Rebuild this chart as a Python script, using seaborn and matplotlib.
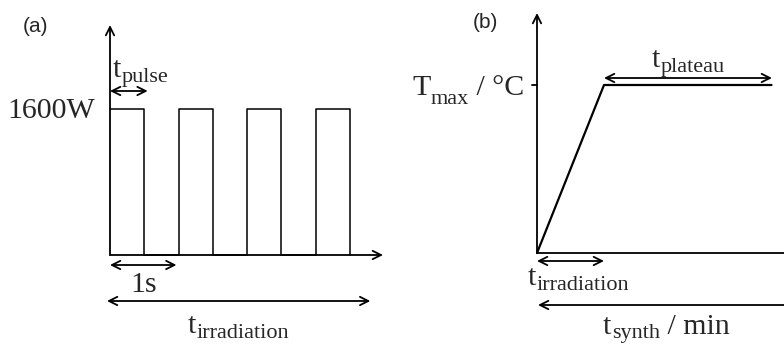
import matplotlib
matplotlib.use("Agg")
import matplotlib.pyplot as plt
import matplotlib.transforms as mtransforms
import seaborn as sns
import pandas as pd

# ---- data ----
pulse_time = [0, 0.5, 1, 1.5, 2, 2.5, 3, 3.5]          # s
pulse_power = [1600, 0, 1600, 0, 1600, 0, 1600, 0]      # W
synth_time = [0, 1, 3.5]                                # ramp end = t_irradiation
synth_temp = [0, 1, 1]                                  # fraction of T_max

sns.set_theme(style="white")
plt.rcParams["font.family"] = ["Liberation Serif", "DejaVu Serif"]

W, H = 784, 344
fig = plt.figure(figsize=(W / 100, H / 100), dpi=100)
PX = mtransforms.Affine2D().scale(1, -1).translate(0, H)   # figure pixels, y from top

def make_axes(px0, px1, ox, oy, sx, sy):
    ax = fig.add_axes([px0 / W, 0, (px1 - px0) / W, 1])
    yb = H - oy
    ax.set_xlim((px0 - ox) / sx, (px1 - ox) / sx)
    ax.set_ylim(-yb / sy, (H - yb) / sy)
    ax.axis("off")
    return ax

def arrow(ax, x0, y0, x1, y1, style="<->", lw=1.3):
    ax.annotate("", xy=(x1, y1), xytext=(x0, y0),
                arrowprops=dict(arrowstyle=style + ",head_length=0.6,head_width=0.3",
                                lw=lw, color="black", shrinkA=0, shrinkB=0,
                                mutation_scale=10), annotation_clip=False)

MAIN, SUB = 21.5, 16

def label(x, y, main, sub=None, tail=None, drop=5):
    """left-aligned label, baseline at pixel (x, y from top)."""
    t = fig.text(x, y, main, transform=PX, ha="left", va="baseline", fontsize=MAIN)
    last = t
    if sub:
        last = plt.annotate(sub, xy=(1, y), xycoords=(t, PX), xytext=(0.5, -drop),
                            textcoords="offset pixels", ha="left", va="baseline",
                            fontsize=SUB, annotation_clip=False)
    if tail:
        plt.annotate(tail, xy=(1, y), xycoords=(last, PX), xytext=(0, 0),
                     textcoords="offset pixels", ha="left", va="baseline",
                     fontsize=MAIN, annotation_clip=False)

# ---- panel (a) ----
sxa, sya = 68.5, 146 / 1600
axa = make_axes(0, 392, 110, 255, sxa, sya)
df_a = pd.DataFrame({"t": pulse_time, "P": pulse_power})
sns.lineplot(data=df_a, x="t", y="P", ax=axa, estimator=None, sort=False,
             drawstyle="steps-post", color="black", lw=1.1)
arrow(axa, 0, 0, 0, (344 - 25 - 89) / sya, "->")
arrow(axa, 0, 0, (383 - 110) / sxa, 0, "->")
arrow(axa, 0, (253 - 89) / sya, 0.55, (253 - 89) / sya)
arrow(axa, 0, (79 - 89) / sya, 0.97, (79 - 89) / sya)
arrow(axa, -0.044, (43 - 89) / sya, 3.8, (43 - 89) / sya)

# ---- panel (b) ----
sxb, syb = 67, 168
axb = make_axes(392, 784, 537, 253, sxb, syb)
df_b = pd.DataFrame({"t": synth_time, "T": synth_temp})
sns.lineplot(data=df_b, x="t", y="T", ax=axb, estimator=None, sort=False,
             color="black", lw=1.6)
arrow(axb, 0, 0, 0, (344 - 13 - 91) / syb, "->")
axb.plot([0, 3.8], [0, 0], color="black", lw=1.3, clip_on=False)
axb.plot([-0.075, 0], [1, 1], color="black", lw=1.3)
arrow(axb, 1, (266 - 91) / syb, 3.507, (266 - 91) / syb)
arrow(axb, 0, (83 - 91) / syb, 1, (83 - 91) / syb)
arrow(axb, 3.8, (39 - 91) / syb, 0.015, (39 - 91) / syb, "->")

# ---- labels ----
fig.text(95, 118, "1600W", transform=PX, ha="right", va="baseline", fontsize=MAIN)
fig.text(130, 292, "1s", transform=PX, ha="left", va="baseline", fontsize=MAIN)
label(113, 77, "t", "pulse")
label(188, 333, "t", "irradiation")
label(412, 95, "T", "max", " / °C", drop=9)
label(652, 67, "t", "plateau")
label(528, 285, "t", "irradiation")
label(603, 334, "t", "synth", " / min", drop=4)

fig.text(23, 27, "(a)", transform=PX, family="Liberation Sans", fontsize=15,
         va="center", ha="left")
fig.text(473, 22, "(b)", transform=PX, family="Liberation Sans", fontsize=15,
         va="center", ha="left")

fig.savefig("out.png", dpi=100, facecolor="white")
